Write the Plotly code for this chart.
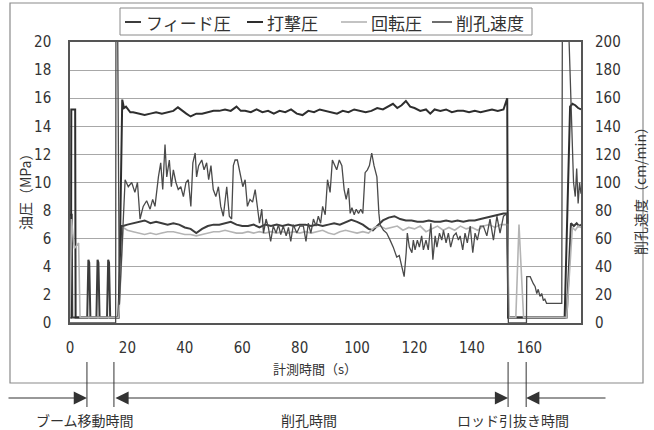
import plotly.graph_objects as go

# ---------------- data ----------------
# 打撃圧 (percussion pressure, MPa)
perc_t = [0, 0.35, 0.45, 1.8, 1.95, 17.0, 18.2, 18.8, 19.5, 21, 22, 24, 26, 28, 30, 32, 34, 36, 37.6, 39,
          40.5, 42, 44, 46, 48, 50, 52, 54, 56, 58, 59.5, 61, 63, 65, 67, 69, 71, 73, 75, 77, 79, 81, 83, 85,
          87, 89, 91, 93, 95, 97, 99, 101, 103, 105, 107, 109, 111, 112.5, 114, 115.5, 117, 118.5, 120, 122,
          124, 125.5, 127, 129, 131, 133, 135, 137, 139, 141, 143, 145, 147, 149, 151, 152.3, 152.6, 172.3,
          174.2, 175, 176, 177, 178]
perc_v = [0.4, 0.4, 15.2, 15.2, 0.4, 0.4, 15.9, 15.3, 15.4, 15.0, 15.0, 14.9, 14.8, 14.9, 15.0, 14.9, 15.0,
          15.1, 15.35, 15.1, 14.9, 14.7, 14.9, 14.9, 15.0, 15.1, 15.1, 15.2, 15.1, 15.4, 15.1, 15.1, 15.0,
          15.2, 15.0, 15.1, 14.9, 15.1, 15.0, 15.2, 14.9, 14.8, 15.1, 15.0, 15.2, 15.1, 15.0, 14.9, 15.1,
          15.0, 15.2, 15.1, 15.0, 15.1, 15.3, 15.2, 15.4, 15.6, 15.3, 15.5, 15.8, 15.4, 15.3, 15.1, 15.2,
          14.9, 15.2, 15.1, 15.2, 15.0, 15.1, 15.1, 15.0, 15.1, 15.0, 15.1, 15.2, 15.1, 15.2, 16.0, 0.4,
          0.4, 15.4, 15.6, 15.5, 15.3, 15.2]

# フィード圧 (feed pressure, MPa)
feed_t = [0, 0.6, 0.8, 6.0, 6.4, 6.7, 7.1, 9.2, 9.6, 9.9, 10.3, 12.9, 13.3, 13.6, 14.0, 16.8, 18.0, 18.5,
          20, 22, 24, 26, 28, 30, 32, 34, 36, 38, 40, 42, 44, 46, 48, 50, 52, 54, 56, 58, 60, 62, 64, 66, 68,
          70, 72, 74, 76, 78, 80, 82, 84, 86, 88, 90, 92, 94, 96, 98, 100, 102, 104, 105.5, 107, 109, 111,
          113, 115, 117, 119, 121, 123, 125, 127, 129, 131, 133, 135, 137, 139, 141, 143, 145, 147, 149, 151,
          152.3, 152.7, 173.0, 174.5, 175.5, 176.5, 177.3, 178]
feed_v = [7.7, 7.7, 0.4, 0.4, 4.5, 4.3, 0.4, 0.4, 4.5, 4.3, 0.4, 0.4, 4.5, 4.3, 0.4, 0.4, 6.9, 6.9,
          7.0, 7.1, 7.2, 7.3, 7.1, 7.2, 7.1, 7.0, 7.1, 7.0, 6.8, 6.7, 6.4, 6.7, 6.9, 7.0, 7.0, 7.1, 7.2, 7.0,
          6.9, 6.9, 7.0, 6.8, 7.0, 6.9, 7.0, 6.9, 7.0, 6.9, 7.0, 7.0, 6.9, 7.0, 6.9, 7.0, 7.1, 7.0, 7.2, 7.35,
          7.2, 7.0, 6.7, 6.6, 6.9, 7.3, 7.5, 7.6, 7.4, 7.3, 7.3, 7.2, 7.2, 7.3, 7.2, 7.2, 7.3, 7.2, 7.3, 7.2,
          7.3, 7.3, 7.4, 7.5, 7.6, 7.7, 7.8, 7.8, 0.4, 0.4, 7.1, 6.9, 7.1, 6.9, 7.0]

# 回転圧 (rotation pressure, MPa)
rot_t = [0, 0.5, 1.5, 3.0, 3.5, 17.0, 18.5, 20, 22, 24, 26, 28, 30, 32, 34, 36, 38, 40, 42, 44, 46, 48, 50,
         52, 54, 56, 58, 60, 62, 64, 66, 68, 70, 72, 74, 76, 78, 80, 82, 84, 86, 88, 90, 92, 94, 96, 98, 100,
         102, 104, 106, 108, 110, 112, 114, 116, 118, 120, 122, 124, 126, 128, 130, 132, 134, 136, 138, 140,
         142, 144, 146, 148, 150, 152.4, 152.9, 155.3, 156.4, 158.0, 173.0, 175.0, 176, 177, 178]
rot_v = [0.4, 7.4, 5.3, 5.7, 0.4, 0.4, 6.8, 6.6, 6.5, 6.4, 6.3, 6.4, 6.3, 6.4, 6.5, 6.5, 6.4, 6.3, 6.3, 6.2,
         6.3, 6.4, 6.5, 6.5, 6.6, 6.5, 6.4, 6.4, 6.5, 6.4, 6.5, 6.4, 6.5, 6.4, 6.5, 6.4, 6.5, 6.4, 6.5, 6.4,
         6.5, 6.6, 6.4, 6.3, 6.5, 6.6, 6.5, 6.4, 6.5, 6.4, 6.8, 6.9, 6.7, 6.8, 6.9, 6.6, 6.8, 6.7, 6.9, 6.5,
         6.7, 6.9, 6.6, 6.8, 6.6, 6.9, 6.7, 6.8, 6.6, 6.9, 7.0, 6.8, 7.0, 7.0, 0.4, 0.4, 7.0, 0.4, 0.4, 6.8,
         6.6, 6.9, 6.8]

# 削孔速度 (drilling speed, cm/min)
speed_t = [0, 15.9, 16.0, 16.6, 17.2, 19.2, 20.3, 21.5, 22.6, 23.5, 24.4, 25.5, 26.7, 27.9, 28.8, 29.6,
           30.8, 31.6, 32.3, 33.1, 33.7, 34.6, 35.3, 36.0, 36.9, 37.7, 38.6, 39.5, 40.4, 41.2, 42.1, 42.8,
           43.6, 44.1, 44.8, 45.9, 46.7, 47.6, 48.3, 49.1, 49.9, 50.8, 51.7, 52.5, 53.4, 54.6, 55.5, 56.3,
           56.9, 57.5, 58.3, 59.2, 60.2, 61.0, 61.8, 62.7, 63.6, 64.5, 65.3, 66.0, 66.8, 67.4, 68.3, 69.1,
           69.9, 70.8, 71.8, 72.6, 73.4, 74.3, 75.3, 76.1, 76.9, 77.8, 79.0, 80.1, 81.3, 82.2, 83.0, 83.9,
           84.8, 85.7, 86.5, 87.3, 88.0, 88.9, 89.7, 90.6, 91.4, 92.1, 92.9, 93.8, 94.7, 95.5, 96.2, 97.0,
           97.6, 98.2, 99.0, 99.7, 100.5, 101.3, 102.0, 102.8, 103.6, 104.3, 105.1, 105.9, 106.9, 107.6,
           108.0, 109.2, 110.3, 111.5, 112.6, 113.8, 114.7, 115.6, 116.4, 117.1, 117.5, 118.2, 119.1, 119.6,
           120.2, 121.0, 121.7, 122.5, 123.1, 124.0, 124.8, 125.7, 126.4, 127.2, 127.8, 128.7, 129.5, 130.1,
           131.0, 131.8, 132.6, 133.6, 134.5, 135.3, 135.9, 136.8, 137.6, 138.4, 139.4, 140.3, 141.1, 141.9,
           142.9, 144.0, 145.2, 146.3, 147.5, 148.7, 149.8, 151.0, 152.2, 152.7, 159.0, 159.1, 160.3, 161.4,
           162.0, 162.6, 163.1, 163.7, 164.3, 164.9, 165.4, 166.0, 171.3, 171.5, 173.7, 175.4, 176.0, 176.5,
           177.0, 177.5, 178.0]
speed_v = [0, 0, 210, 210, 13, 102, 97, 100, 93, 100, 74, 83, 87, 81, 88, 83,
           104, 114, 95, 127, 104, 116, 97, 109, 100, 95, 97, 90, 100, 102, 83, 114,
           121, 104, 112, 116, 109, 114, 102, 112, 95, 90, 97, 83, 76, 97, 76, 74,
           112, 116, 116, 107, 97, 102, 83, 88, 86, 95, 81, 71, 81, 64, 74, 68,
           58, 69, 64, 70, 63, 69, 62, 68, 58, 70, 64, 69, 69, 58, 71, 64,
           74, 69, 76, 71, 83, 77, 102, 93, 116, 112, 109, 116, 112, 95, 88, 96,
           78, 82, 77, 81, 78, 81, 78, 107, 109, 112, 121, 112, 104, 78,
           70, 66, 64, 59, 54, 47, 48, 40, 33, 50, 64, 54, 50, 59,
           52, 59, 54, 62, 52, 59, 52, 71, 45, 62, 54, 64, 59, 66,
           57, 64, 54, 62, 64, 59, 62, 52, 64, 57, 69, 50, 64, 59,
           69, 69, 62, 74, 59, 76, 64, 76, 78, 0, 0, 33, 33, 28,
           26, 21, 24, 19, 21, 16, 17, 14, 14, 210, 210, 100, 90, 110,
           85, 100, 92]

x_ticks = [0, 20, 40, 60, 80, 100, 120, 140, 160]
phase_bounds = [5.9, 15.3, 152.6, 158.9]          # s
phase_labels = ["ブーム移動時間", "削孔時間", "ロッド引抜き時間"]
legend_names = ["フィード圧", "打撃圧", "回転圧", "削孔速度"]

# ---------------- figure ----------------
W, H = 654, 430
L, R, T, B = 70, 73, 42, 107
PW, PH = W - L - R, H - T - B
XMAX = 178.0

def px(xp):   # pixel x -> paper
    return (xp - L) / PW

def py(yp):   # pixel y -> paper
    return (H - B - yp) / PH

JP = "Noto Sans CJK JP"
NUM = "Liberation Sans Narrow, Arial Narrow, DejaVu Sans Condensed, sans-serif"
TXT = "#333333"

c_feed, c_perc, c_rot, c_speed = "#3c3c3c", "#2e2e2e", "#b4b4b4", "#4a4a4a"

fig = go.Figure()
fig.add_trace(go.Scatter(x=feed_t, y=feed_v, mode="lines", name=legend_names[0],
                         line=dict(color=c_feed, width=2)))
fig.add_trace(go.Scatter(x=perc_t, y=perc_v, mode="lines", name=legend_names[1],
                         line=dict(color=c_perc, width=2)))
fig.add_trace(go.Scatter(x=rot_t, y=rot_v, mode="lines", name=legend_names[2],
                         line=dict(color=c_rot, width=1.6)))
fig.add_trace(go.Scatter(x=speed_t, y=speed_v, mode="lines", name=legend_names[3],
                         line=dict(color=c_speed, width=1.3), yaxis="y2"))

fig.update_layout(
    width=W, height=H, margin=dict(l=L, r=R, t=T, b=B, autoexpand=False),
    paper_bgcolor="white", plot_bgcolor="white", showlegend=False,
    xaxis=dict(range=[0, XMAX], tickvals=x_ticks, showgrid=False, zeroline=False,
               showline=True, mirror=True, linecolor="#555", linewidth=1.5,
               ticks="", ticklabelstandoff=10, automargin=False,
               tickfont=dict(family=NUM, size=15, color=TXT)),
    yaxis=dict(range=[0, 20], dtick=2, showgrid=True, gridcolor="#a8a8a8", gridwidth=1,
               zeroline=False, showline=True, mirror=True, linecolor="#555", linewidth=1.5,
               ticks="", ticklabelstandoff=14, automargin=False,
               tickfont=dict(family=NUM, size=15, color=TXT)),
    yaxis2=dict(range=[0, 200], dtick=20, overlaying="y", side="right", showgrid=False,
                zeroline=False, showline=False, ticks="", ticklabelstandoff=13, automargin=False,
                tickfont=dict(family=NUM, size=15, color=TXT)),
)

shapes = []
ann = []
C = dict(xanchor="center", yanchor="middle", showarrow=False)

# outer frame
shapes.append(dict(type="rect", xref="paper", yref="paper", x0=px(10), x1=px(643), y0=py(383), y1=py(3),
                   line=dict(color="#8a8a8a", width=1.2), layer="below"))

# axis titles
ann.append(dict(C, xref="paper", yref="paper", x=px(25), y=py(189), text="油圧（MPa）", textangle=-90,
                font=dict(family=JP, size=14, color=TXT)))
ann.append(dict(C, xref="paper", yref="paper", x=px(640), y=py(188), text="削孔速度（cm/min）", textangle=-90,
                font=dict(family=JP, size=14, color=TXT)))
ann.append(dict(C, xref="paper", yref="paper", x=px(315), y=py(368), text="計測時間（s）",
                font=dict(family=JP, size=13, color=TXT)))

# legend (manual)
shapes.append(dict(type="rect", xref="paper", yref="paper", x0=px(120), x1=px(532), y0=py(35), y1=py(8),
                   line=dict(color="#8a8a8a", width=1), fillcolor="white"))
leg_lines = [(125, 141), (247, 263), (341, 367), (432, 452)]
leg_text_x = [144, 265, 369, 454]
leg_cols = [c_feed, c_perc, c_rot, c_speed]
leg_w = [2, 2, 1.6, 1.6]
for (a, b), tx, col, lw, nm in zip(leg_lines, leg_text_x, leg_cols, leg_w, legend_names):
    shapes.append(dict(type="line", xref="paper", yref="paper", x0=px(a), x1=px(b), y0=py(22), y1=py(22),
                       line=dict(color=col, width=lw)))
    ann.append(dict(xref="paper", yref="paper", x=px(tx), y=py(22), text=nm, xanchor="left",
                    yanchor="middle", showarrow=False, font=dict(family=JP, size=17, color=TXT)))

# phase markers and arrows below the axis
for tb in phase_bounds:
    shapes.append(dict(type="line", xref="paper", yref="paper", x0=tb / XMAX, x1=tb / XMAX,
                       y0=py(362), y1=py(407), line=dict(color="#333", width=1)))
ya = py(398)
pxw = PW / XMAX
arrow_style = dict(xref="paper", yref="paper", text="", showarrow=True, arrowhead=2, arrowsize=2.4,
                   arrowwidth=1.1, arrowcolor="#333", ay=0, standoff=0, startstandoff=0)
b0, b1, b2, b3 = phase_bounds
ann.append(dict(arrow_style, x=b0 / XMAX, y=ya, ax=-(b0 * pxw + L - 7)))
ann.append(dict(arrow_style, x=b2 / XMAX, y=ya, ax=-(b2 - b1) * pxw, arrowside="end+start",
                startarrowhead=2, startarrowsize=2.4))
ann.append(dict(arrow_style, x=b3 / XMAX, y=ya, ax=(607 - L - b3 * pxw)))

lab_x = [85, 309, 513]
for lx, lt in zip(lab_x, phase_labels):
    ann.append(dict(C, xref="paper", yref="paper", x=px(lx), y=py(420), text=lt,
                    font=dict(family=JP, size=14, color=TXT)))

fig.update_layout(shapes=shapes, annotations=ann)
fig.write_html("out.html", config={"displayModeBar": False},
               post_script="document.body.style.margin='0px';")
